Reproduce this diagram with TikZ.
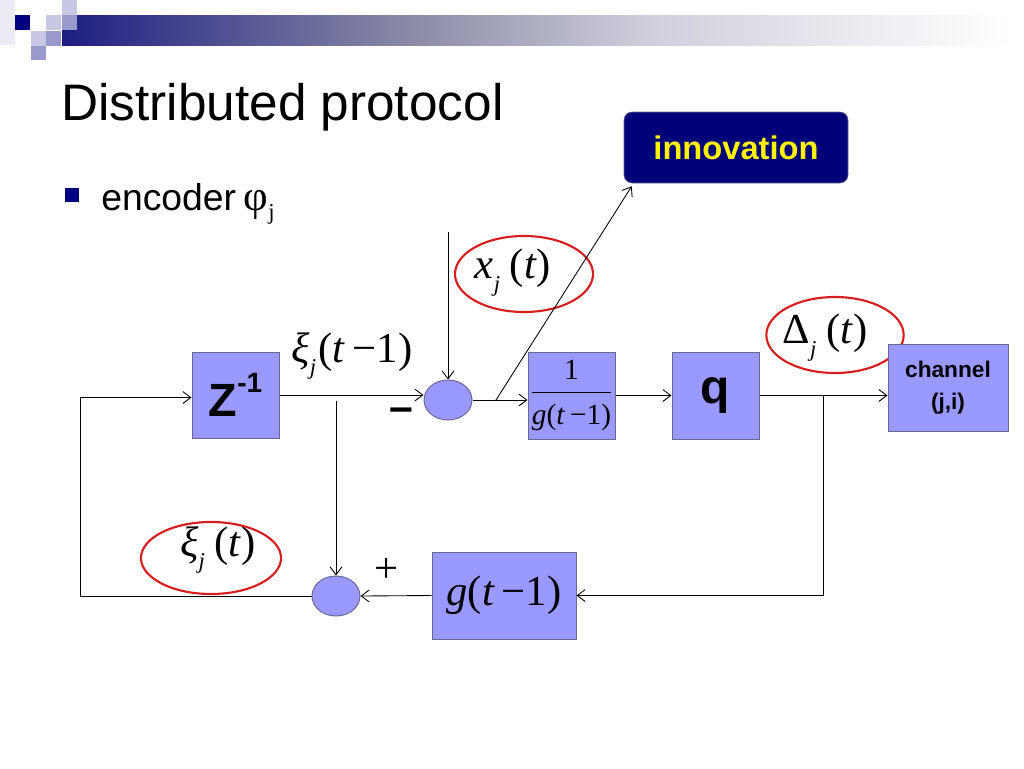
\documentclass[tikz,border=0pt]{standalone}
\usepackage{fontspec}
\setmainfont{Liberation Serif}
\newfontfamily\sansf{Liberation Sans}
\usetikzlibrary{arrows.meta,shapes.geometric,calc}
\definecolor{boxfill}{RGB}{153,153,255}
\definecolor{boxline}{RGB}{105,105,150}
\definecolor{navy}{RGB}{0,0,128}
\definecolor{redline}{RGB}{215,30,30}
\definecolor{innovfill}{RGB}{0,0,120}
\definecolor{hdA}{RGB}{30,30,130}
\definecolor{hdB}{RGB}{135,135,165}
\definecolor{hdC}{RGB}{207,207,220}
\definecolor{sqlight}{RGB}{200,200,228}
\definecolor{sqmed}{RGB}{153,153,204}
\definecolor{sqfaint}{RGB}{236,236,246}
\setlength{\arrayrulewidth}{0.7pt}
\newcommand{\fs}[1]{\fontsize{#1}{#1}\selectfont}
\newcommand{\jsub}[1]{\raisebox{-0.3em}{\fontsize{17}{17}\selectfont\itshape #1}\hspace{0.06em}}
\begin{document}
\begin{tikzpicture}[x=0.75pt,y=-0.75pt,
  blk/.style={draw=boxline, fill=boxfill, line width=0.75pt, inner sep=0pt},
  sumnode/.style={ellipse, draw=boxline, fill=boxfill, line width=0.75pt, minimum width=36pt, minimum height=30pt, inner sep=0pt},
  hl/.style={ellipse, draw=redline, line width=1.6pt, inner sep=0pt},
  arr/.style={-{Straight Barb[length=6pt,width=9pt]}, line width=0.65pt},
  lbl/.style={inner sep=0pt, font=\fs{32}},
]
\useasboundingbox (0,0) rectangle (1024,768);
% header
\fill[sqfaint] (0,0) rectangle (15,45);
\shade[left color=hdA, right color=hdB] (62,15) rectangle (400,45);
\shade[left color=hdB, right color=hdC] (399.5,15) rectangle (650,45);
\shade[left color=hdC, right color=white] (649.5,15) rectangle (1012,45);
\fill[navy] (15,15) rectangle (30,30);
\fill[sqlight] (62,0) rectangle (77,15);
\fill[sqlight] (46,15) rectangle (61,30);
\fill[sqmed] (62,15) rectangle (77,30);
\fill[sqlight] (31,31) rectangle (46,46);
\fill[sqmed] (46,31) rectangle (61,46);
\fill[sqmed] (31,46) rectangle (46,60);
% title and bullet
\node[anchor=base west, inner sep=0pt, font=\sansf\fs{38.5}] (title) at (61,120) {Distributed protocol};
\node[fill=navy, minimum size=10.5pt, inner sep=0pt] (bul) at (72,195) {};
\node[anchor=base west, inner sep=0pt, font=\sansf\fs{28}] (enc) at (101,210) {encoder\hspace{0.2em}{\rmfamily\fs{32}φ}\raisebox{-0.25em}{\fs{17}\rmfamily j}};
% red highlight ellipses
\node[hl, minimum width=103.5pt, minimum height=57pt] (ex) at (524,274) {};
\node[hl, minimum width=103pt, minimum height=57pt] (ed) at (835,335) {};
\node[hl, minimum width=105pt, minimum height=54pt] (exi) at (211,558) {};
% blocks
\node[blk, minimum width=65.25pt, minimum height=64.5pt] (Z) at (235.5,395)
  {\sansf\bfseries\fs{35}Z\raisebox{0.5em}{\fs{21}-1}};
\node[blk, minimum width=65.25pt, minimum height=65.25pt] (inv) at (571.5,395.5)
  {\fontsize{22}{24}\selectfont\begin{tabular}{@{}c@{}}1\\[2pt]\hline\rule{0pt}{24pt}\textit{g}(\textit{t}\,−1)\end{tabular}};
\node[blk, minimum width=65.25pt, minimum height=65.25pt, font=\sansf\bfseries\fs{36}] (q) at (715.5,395.5) {q};
\node[blk, minimum width=90pt, minimum height=65.25pt, align=center, font=\sansf\bfseries\fontsize{17}{24}\selectfont] (chan) at (948,387.5) {channel\\(j,i)};
\node[blk, minimum width=108pt, minimum height=65.25pt, font=\fs{32}] (g) at (504,595.5) {\textit{g}(\textit{t}\,−1)};
\node[draw=boxline, fill=innovfill, rounded corners=6pt, minimum width=168pt, minimum height=53.25pt, text=yellow, font=\sansf\bfseries\fs{24.5}] (innov) at (736,147.5) {innovation};
\node[sumnode] (s1) at (448,400) {};
\node[sumnode] (s2) at (336,596) {};
% connectors
\coordinate (fb) at (80.5,397.5);
\coordinate (xin) at (448,232);
\coordinate (br1) at (496,400);
\coordinate (br2) at (823,395.5);
\coordinate (br3) at (336,401);
\draw[arr] (s2.west) -| (fb) -- (fb -| Z.west);
\draw[arr] (Z.east) -- (Z.east -| s1.west);
\draw[arr] (xin) -- (s1.north);
\draw[arr] (s1.east) -- (s1.east -| inv.west);
\draw[arr] (br1) -- ($(innov.south west)+(8,3)$);
\draw[arr] (inv.east) -- (q.west);
\draw[arr] (q.east) -- (q.east -| chan.west);
\draw[arr] (br2) |- (g.east);
\draw[arr] (g.west) -- (s2.east);
\draw[arr] (br3) -- (s2.north);
% labels
\node[lbl] (lxi1) at (352,356) {\textit{ξ}\jsub{j}(\textit{t}\,−1)};
\node[lbl] (lx) at (513,273) {\textit{x}\jsub{j}\,(\textit{t})};
\node[lbl] (ld) at (825,338) {Δ\jsub{j}\,(\textit{t})};
\node[lbl] (lxi) at (218,550) {\textit{ξ}\jsub{j}\,(\textit{t})};
\node[inner sep=0pt, font=\sansf\bfseries\fs{32}] (minus) at (401,415) {–};
\node[inner sep=0pt, font=\fs{32}] (plus) at (387,570) {+};
\end{tikzpicture}
\end{document}
